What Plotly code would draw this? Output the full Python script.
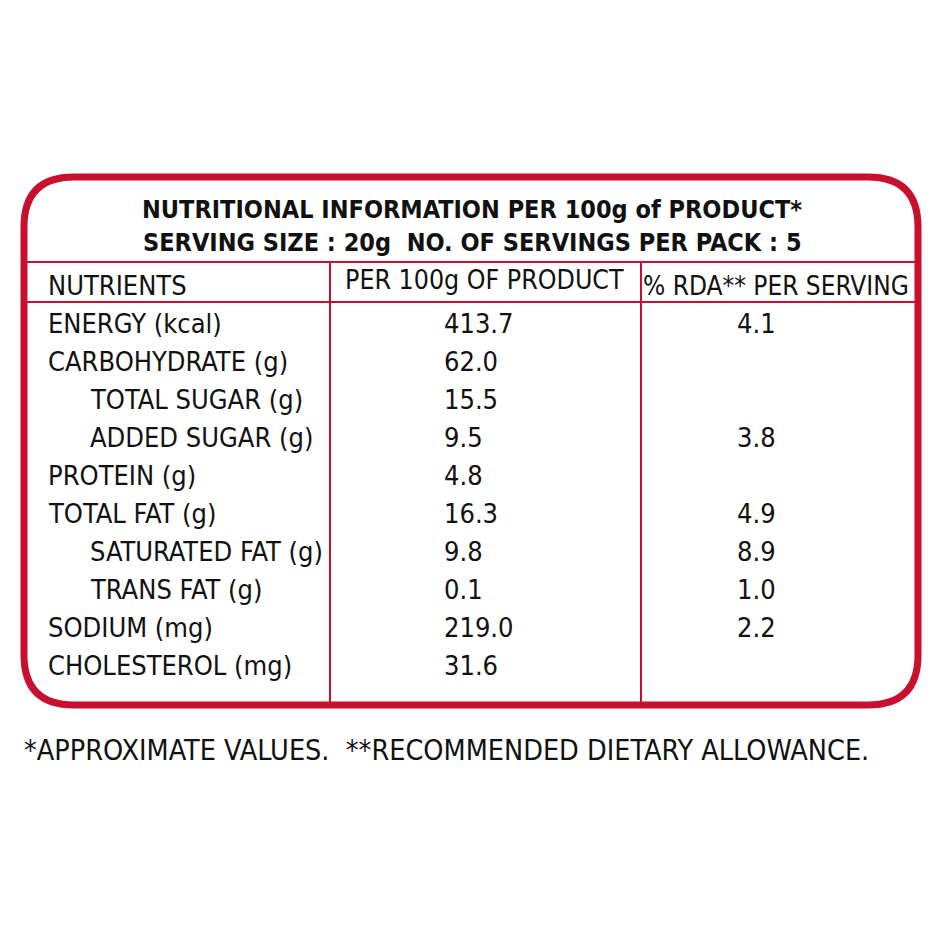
import plotly.graph_objects as go

title1 = "NUTRITIONAL INFORMATION PER 100g of PRODUCT*"
title2 = "SERVING SIZE : 20g  NO. OF SERVINGS PER PACK : 5"
col_heads = ["NUTRIENTS", "PER 100g OF PRODUCT", "% RDA** PER SERVING"]
nutrients = ["ENERGY (kcal)", "CARBOHYDRATE (g)", "TOTAL SUGAR (g)", "ADDED SUGAR (g)",
             "PROTEIN (g)", "TOTAL FAT (g)", "SATURATED FAT (g)", "TRANS FAT (g)",
             "SODIUM (mg)", "CHOLESTEROL (mg)"]
indented = [False, False, True, True, False, False, True, True, False, False]
per100 = ["413.7", "62.0", "15.5", "9.5", "4.8", "16.3", "9.8", "0.1", "219.0", "31.6"]
rda = ["4.1", "", "", "3.8", "", "4.9", "8.9", "1.0", "2.2", ""]
footnote = "*APPROXIMATE VALUES.  **RECOMMENDED DIETARY ALLOWANCE."

red = "#c8102e"
font = "Liberation Sans Narrow, DejaVu Sans Condensed, Roboto, sans-serif"

fig = go.Figure()
L, R, T, B, r = 24, 918, 177, 705, 50
path = (f"M {L+r},{T} L {R-r},{T} Q {R},{T} {R},{T+r} L {R},{B-r} Q {R},{B} {R-r},{B} "
        f"L {L+r},{B} Q {L},{B} {L},{B-r} L {L},{T+r} Q {L},{T} {L+r},{T} Z")
shapes = [dict(type="path", path=path, line=dict(color=red, width=7))]
for y in (262, 302):
    shapes.append(dict(type="line", x0=L, x1=R, y0=y, y1=y, line=dict(color=red, width=2)))
for x in (330, 641):
    shapes.append(dict(type="line", x0=x, x1=x, y0=262, y1=B, line=dict(color=red, width=2)))

ann = []
def txt(x, y, s, anchor="left", size=27, bold=False):
    ann.append(dict(x=x, y=y, text=f"<b>{s}</b>" if bold else s, showarrow=False,
                    xanchor=anchor, yanchor="middle",
                    font=dict(family=font, size=size, color="#111")))

txt(472, 209, title1, "center", 25, True)
txt(472, 242, title2, "center", 25, True)
txt(46, 285, col_heads[0])
txt(484, 279, col_heads[1], "center", 26.5)
txt(776, 286, col_heads[2], "center", 26)
for i, n in enumerate(nutrients):
    y = 323 + 38 * i
    txt(88 if indented[i] else 46, y, n)
    txt(442, y, per100[i])
    if rda[i]:
        txt(735, y, rda[i])
txt(22, 750, footnote, "left", 28.5)

fig.update_layout(shapes=shapes, annotations=ann, width=940, height=940,
                  margin=dict(l=0, r=0, t=0, b=0), plot_bgcolor="white", paper_bgcolor="white",
                  xaxis=dict(range=[8, 948], visible=False),
                  yaxis=dict(range=[948, 8], visible=False))
fig.write_html("out.html")
